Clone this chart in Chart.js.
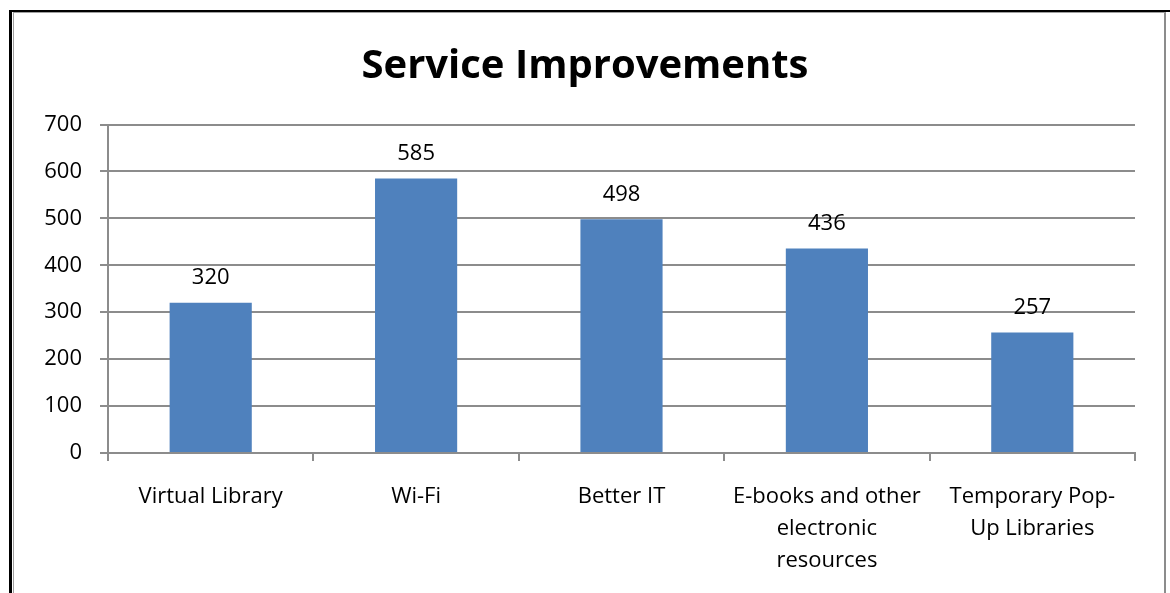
<!DOCTYPE html>
<html lang="en">
<head>
  <meta charset="UTF-8" />
  <title>Service Improvements</title>
  <script src="https://cdn.jsdelivr.net/npm/chart.js"></script>
  <style>
    body {
      margin: 0;
      background-color: #fff;
      overflow: hidden;
    }

    .wrap {
      position: relative;
      width: 1170px;
      height: 593px;
    }

    canvas {
      position: absolute;
      left: 0;
      top: 0;
    }

    .outer {
      position: absolute;
      left: 9px;
      top: 10px;
      width: 1170px;
      height: 600px;
      border-left: 3px solid #000;
      border-top: 2px solid #000;
      pointer-events: none;
    }

    .inner {
      position: absolute;
      left: 13px;
      top: 12px;
      width: 1150px;
      height: 600px;
      border-left: 1px solid #a0a0a0;
      border-top: 1px solid #a0a0a0;
      border-right: 2px solid #8c8c8c;
      pointer-events: none;
    }
  </style>
</head>
<body>
  <div class="wrap">
    <canvas id="serviceChart" width="1170" height="593"></canvas>
    <div class="outer"></div>
    <div class="inner"></div>
  </div>

  <script>
    const categories = [
      "Virtual Library",
      "Wi-Fi",
      "Better IT",
      ["E-books and other", "electronic", "resources"],
      ["Temporary Pop-", "Up Libraries"]
    ];
    const values = [320, 585, 498, 436, 257];

    const fontFamily = "'Open Sans', 'Noto Sans', sans-serif";

    // valores em cima das barras
    const barValues = {
      id: "barValues",
      afterDatasetsDraw(chart) {
        const ctx = chart.ctx;
        const meta = chart.getDatasetMeta(0);
        ctx.save();
        ctx.font = "22px " + fontFamily;
        ctx.fillStyle = "#000";
        ctx.textAlign = "center";
        ctx.textBaseline = "middle";
        meta.data.forEach((bar, i) => {
          ctx.fillText(values[i], bar.x, bar.y - 25);
        });
        ctx.restore();
      }
    };

    new Chart(document.getElementById("serviceChart"), {
      type: "bar",
      data: {
        labels: categories,
        datasets: [{
          data: values,
          backgroundColor: "#4f81bd",
          barPercentage: 0.4,
          categoryPercentage: 1
        }]
      },
      options: {
        responsive: false,
        animation: false,
        layout: {
          padding: 0
        },
        plugins: {
          legend: { display: false },
          tooltip: { enabled: false },
          title: {
            display: true,
            text: "Service Improvements",
            color: "#000",
            font: { family: fontFamily, size: 40, weight: "bold", lineHeight: 1.2 },
            padding: { top: 43, bottom: 33.5 }
          }
        },
        scales: {
          x: {
            afterFit(scale) { scale.height = 140; },
            grid: {
              drawOnChartArea: false,
              drawTicks: true,
              tickLength: 8,
              color: "#8c8c8c",
              lineWidth: 2
            },
            border: { color: "#8c8c8c", width: 2 },
            ticks: {
              color: "#000",
              padding: 20,
              maxRotation: 0,
              autoSkip: false,
              font: { family: fontFamily, size: 22, lineHeight: 1.45 }
            }
          },
          y: {
            min: 0,
            max: 700,
            afterFit(scale) { scale.width = 108; },
            grid: {
              color: "#8c8c8c",
              lineWidth: 2,
              drawTicks: true,
              tickLength: 8
            },
            border: { color: "#8c8c8c", width: 2 },
            ticks: {
              stepSize: 100,
              color: "#000",
              padding: 18,
              font: { family: fontFamily, size: 22 }
            }
          },
          // espaço vazio à direita, para o título ficar centrado na página
          spacer: {
            type: "linear",
            position: "right",
            display: true,
            afterFit(scale) { scale.width = 35; },
            grid: { display: false, drawTicks: false },
            border: { display: false },
            ticks: { display: false }
          }
        }
      },
      plugins: [barValues]
    });
  </script>
</body>
</html>
